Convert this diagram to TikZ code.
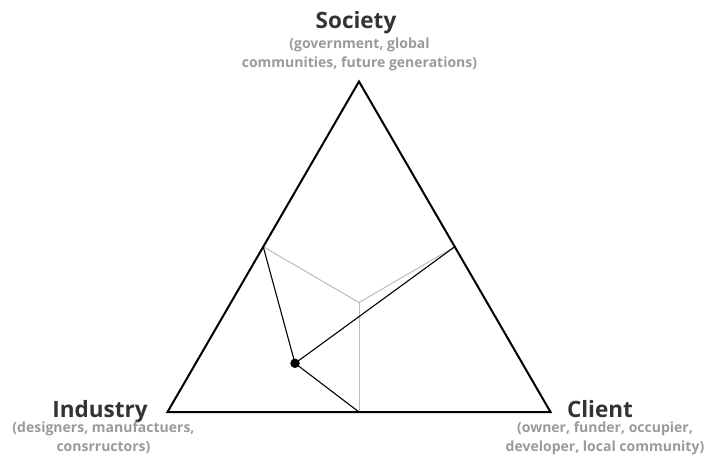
\documentclass[tikz,border=0pt]{standalone}
\usepackage{fontspec}
\usetikzlibrary{calc}
\setmainfont{Open Sans}
\definecolor{titlegray}{HTML}{333333}
\definecolor{subgray}{HTML}{9A9A9A}
\definecolor{guidegray}{HTML}{BBBBBB}
\begin{document}
\begin{tikzpicture}[x=1pt,y=-1pt,
  title/.style={font=\fontsize{22.5}{26}\selectfont\bfseries, text=titlegray, inner sep=0pt},
  sub/.style={font=\fontsize{14}{18.3}\selectfont\bfseries, text=subgray, align=center, inner sep=0pt},
  frame/.style={line width=2pt, line join=miter},
  guide/.style={guidegray, line width=1pt},
  link/.style={black, line width=1.1pt},
  dotnode/.style={circle, fill=black, inner sep=0pt, minimum size=9.5pt}]
\useasboundingbox (0,0) rectangle (710,455);
\coordinate (top) at (359,81.5);
\coordinate (bl) at (167.5,412);
\coordinate (br) at (550.5,412);
\coordinate (ml) at ($(top)!0.5!(bl)$);
\coordinate (mr) at ($(top)!0.5!(br)$);
\coordinate (mb) at ($(bl)!0.5!(br)$);
\coordinate (cen) at (359,302.5);
% guides
\draw[guide] (ml) -- (cen) -- (mr);
\draw[guide] (cen) -- (mb);
% triangle
\draw[frame] (top) -- (bl) -- (br) -- cycle;
% point and links
\node[dotnode] (pt) at (295,363.3) {};
\draw[link] (pt.center) -- (ml);
\draw[link] (pt.center) -- (mr);
\draw[link] (pt.center) -- (mb);
% labels
\node[title, anchor=base] (society) at (356,28) {Society};
\node[sub, anchor=base] (societysub) at (359.5,67) {(government, global\\communities, future generations)};
\node[title, anchor=base] (industry) at (100,417) {Industry};
\node[sub, anchor=base] (industrysub) at (103.5,451) {(designers, manufactuers,\\consrructors)};
\node[title, anchor=base] (client) at (600,417) {Client};
\node[sub, anchor=base] (clientsub) at (605,451) {(owner, funder, occupier,\\developer, local community)};
\end{tikzpicture}
\end{document}
